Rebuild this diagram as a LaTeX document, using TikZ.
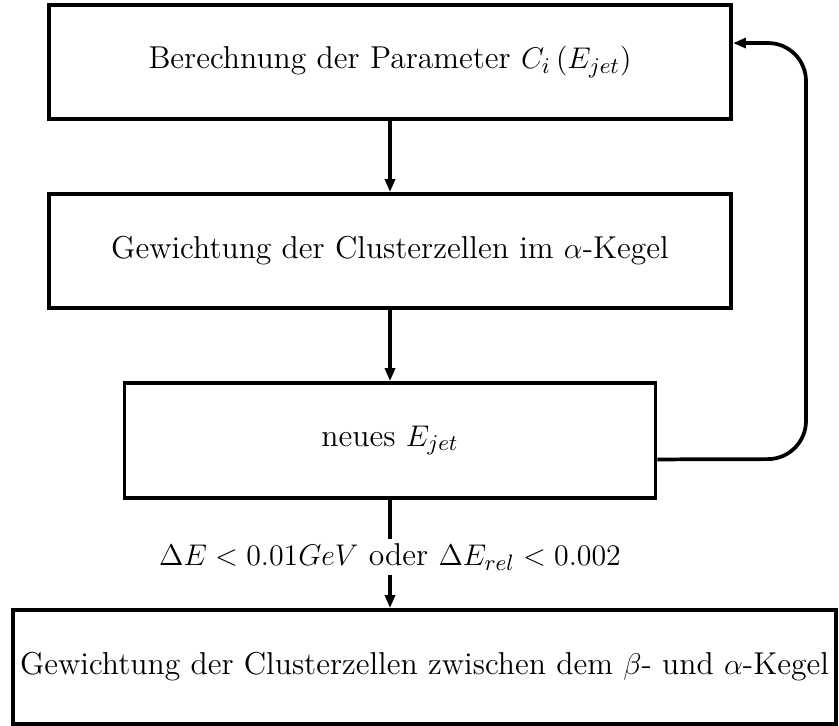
\documentclass[tikz,border=0pt]{standalone}
\usetikzlibrary{arrows.meta}
\begin{document}
\begin{tikzpicture}[x=0.01412cm,y=-0.01412cm,line width=1.5pt,
    >={Triangle[length=5.2pt,width=4pt]},
    every node/.style={font=\fontsize{12.7}{15}\selectfont},
    box/.style={draw,line width=1.5pt,minimum height=45.8pt,inner sep=0pt},
    cond/.style={fill=white,inner xsep=2pt,inner ysep=1pt}]
			\useasboundingbox (0,0) rectangle (839,726);

			% Boxes
			\node[box,minimum width=274pt] (n1) at (390,62) {Berechnung der Parameter $C_i\,(E_{jet})$};
			\node[box,minimum width=274pt] (n2) at (390,251) {Gewichtung der Clusterzellen im $\alpha$-Kegel};
			\node[box,minimum width=213.3pt,minimum height=46.2pt] (n3) at (390,440.5) {neues $E_{jet}$};
			\node[box,minimum width=330.6pt] (n4) at (424.5,667) {Gewichtung der Clusterzellen zwischen dem $\beta$- und $\alpha$-Kegel};

			% Condition
			\node[cond] (c) at (390,557) {$\Delta E<0.01GeV$ oder $\Delta E_{rel}<0.002$};

			% Arrows
			\draw[->] (n1) -- (n2);
			\draw[->] (n2) -- (n3);
			\draw (n3.south) -- (c.north);
			\draw[->] (c.south) -- (c.south |- n4.north);

			% Loop back
			\draw[->,rounded corners=15.3pt] ([yshift=-7.6pt]n3.east) -- (806,459) -- (806,43) -- ([yshift=7.6pt]n1.east);
		\end{tikzpicture}
\end{document}
